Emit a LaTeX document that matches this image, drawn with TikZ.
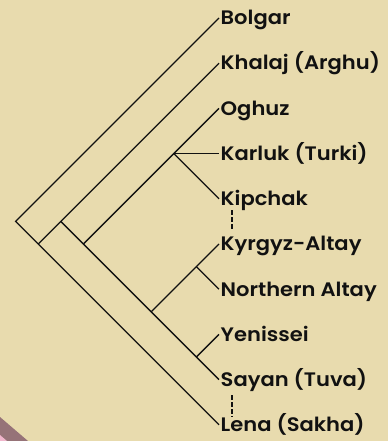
\documentclass[tikz,border=0pt]{standalone}
\usepackage{fontspec}
\newfontfamily\lblfont{Poppins SemiBold}[FakeStretch=1.08]
\definecolor{bgc}{RGB}{232,219,174}
\definecolor{bandc}{RGB}{150,115,120}
\definecolor{pinkc}{RGB}{240,182,204}
\definecolor{inkc}{RGB}{17,17,17}
\begin{document}
\begin{tikzpicture}[x=1pt,y=-1pt,
  lbl/.style={anchor=west, inner xsep=1.5pt, inner ysep=0pt, text height=13.6pt, text depth=0pt,
    font=\lblfont\fontsize{19.5}{22}\selectfont, text=inkc},
  branch/.style={draw=inkc, line width=1.3pt},
  gap/.style={draw=inkc, line width=1.6pt, dash pattern=on 4.5pt off 2.5pt}]
\useasboundingbox (0,0) rectangle (388,441);
\fill[bgc] (0,0) rectangle (388,441);
\fill[bandc] (0,417) -- (28,441) -- (0,441) -- cycle;
\fill[pinkc] (0,435) -- (7,441) -- (0,441) -- cycle;
% internal nodes
\coordinate (root) at (15.6,221.4);
\coordinate (n2) at (38.2,244);
\coordinate (n3) at (60.8,221.4);
\coordinate (n4) at (83.4,244);
\coordinate (n5) at (173.8,153.6);
\coordinate (n6) at (151.2,311.8);
\coordinate (n7) at (196.4,266.6);
\coordinate (n8) at (196.4,357);
% leaves
\node[lbl] (bolgar) at (219,18) {Bolgar};
\node[lbl] (khalaj) at (219,63.2) {Khalaj (Arghu)};
\node[lbl] (oghuz) at (219,108.4) {Oghuz};
\node[lbl] (karluk) at (219,153.6) {Karluk (Turki)};
\node[lbl] (kipchak) at (219,198.8) {Kipchak};
\node[lbl] (kyrgyz) at (219,244) {Kyrgyz-Altay};
\node[lbl] (naltay) at (219,289.2) {Northern Altay};
\node[lbl] (yenissei) at (219,334.4) {Yenissei};
\node[lbl] (sayan) at (219,379.6) {Sayan (Tuva)};
\node[lbl] (lena) at (219,424.8) {Lena (Sakha)};
% branches
\draw[branch] (bolgar.west) -- (root) -- (lena.west);
\draw[branch] (n2) -- (khalaj.west);
\draw[branch] (n3) -- (sayan.west);
\draw[branch] (n4) -- (oghuz.west);
\draw[branch] (n5) -- (karluk.west);
\draw[branch] (n5) -- (kipchak.west);
\draw[branch] (n6) -- (kyrgyz.west);
\draw[branch] (n7) -- (naltay.west);
\draw[branch] (n8) -- (yenissei.west);
% gaps
\draw[gap] ([shift={(13,11.5)}]kipchak.west) -- ([shift={(13,-13)}]kyrgyz.west);
\draw[gap] ([shift={(13,15.5)}]sayan.west) -- ([shift={(13,-8)}]lena.west);
\end{tikzpicture}
\end{document}
